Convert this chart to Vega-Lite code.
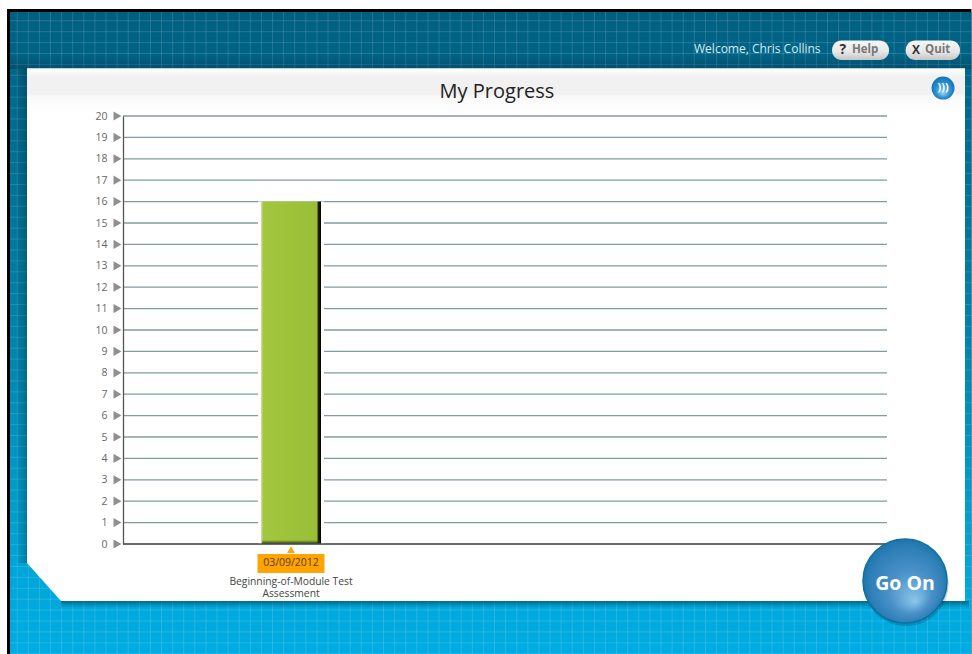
{
"$schema":"https://vega.github.io/schema/vega-lite/v6.json",
"width":764,"height":428,"padding":0,"background":"white",
"data":{"values":[{"decor":1}]},
"resolve":{"axis":{"x":"independent","y":"independent"}},
"config":{"view":{"stroke":null},"font":"Open Sans"},
"datasets":{
"progress":[{"slot":1,"score":16,"date":"03/09/2012","assessment":"Beginning-of-Module Test\nAssessment"}],
"ticks":[{"v":0},{"v":1},{"v":2},{"v":3},{"v":4},{"v":5},{"v":6},{"v":7},{"v":8},{"v":9},{"v":10},{"v":11},{"v":12},{"v":13},{"v":14},{"v":15},{"v":16},{"v":17},{"v":18},{"v":19},{"v":20}]
},
"layer":[
{"mark":{"type":"rect","fill":"white"},"encoding":{
"x":{"datum":-3.84,"type":"quantitative","axis":null,"scale":{"domain":[-1.8,10.933],"nice":false,"zero":false,"padding":0}},"x2":{"datum":12.34},
"y":{"datum":25.374,"type":"quantitative","axis":null,"scale":{"domain":[0,20],"nice":false,"zero":false,"padding":0}},"y2":{"datum":-5.187}}},
{"mark":{"type":"rect","fill":"#000000"},"encoding":{
"x":{"datum":-3.733,"type":"quantitative","axis":null},"x2":{"datum":12.34},
"y":{"datum":25.0,"type":"quantitative","axis":null},"y2":{"datum":-5.187}}},
{"mark":{"type":"rect","fill":{"gradient":"linear","x1":0,"y1":0,"x2":0,"y2":1,"stops":[{"offset":0,"color":"#005f80"},{"offset":0.12,"color":"#00688c"},{"offset":0.5,"color":"#0083aa"},{"offset":0.85,"color":"#00a5d8"},{"offset":1,"color":"#00ace2"}]}},"encoding":{
"x":{"datum":-3.683,"type":"quantitative","axis":null},"x2":{"datum":12.34},
"y":{"datum":24.86,"type":"quantitative","axis":null},"y2":{"datum":-5.187}}},
{"data":{"values":[{"gx":-3.563},{"gx":-3.378},{"gx":-3.193},{"gx":-3.008},{"gx":-2.823},{"gx":-2.638},{"gx":-2.453},{"gx":-2.268},{"gx":-2.083},{"gx":-1.898},{"gx":-1.713},{"gx":-1.528},{"gx":-1.343},{"gx":-1.158},{"gx":-0.973},{"gx":-0.788},{"gx":-0.603},{"gx":-0.418},{"gx":-0.233},{"gx":-0.048},{"gx":0.137},{"gx":0.322},{"gx":0.507},{"gx":0.692},{"gx":0.877},{"gx":1.062},{"gx":1.247},{"gx":1.432},{"gx":1.617},{"gx":1.802},{"gx":1.987},{"gx":2.172},{"gx":2.357},{"gx":2.542},{"gx":2.727},{"gx":2.912},{"gx":3.097},{"gx":3.282},{"gx":3.467},{"gx":3.652},{"gx":3.837},{"gx":4.022},{"gx":4.207},{"gx":4.392},{"gx":4.577},{"gx":4.762},{"gx":4.947},{"gx":5.132},{"gx":5.317},{"gx":5.502},{"gx":5.687},{"gx":5.872},{"gx":6.057},{"gx":6.242},{"gx":6.427},{"gx":6.612},{"gx":6.797},{"gx":6.982},{"gx":7.167},{"gx":7.352},{"gx":7.537},{"gx":7.722},{"gx":7.907},{"gx":8.092},{"gx":8.277},{"gx":8.462},{"gx":8.647},{"gx":8.832},{"gx":9.017},{"gx":9.202},{"gx":9.387},{"gx":9.572},{"gx":9.757},{"gx":9.942},{"gx":10.127},{"gx":10.312},{"gx":10.497},{"gx":10.682},{"gx":10.867},{"gx":11.052},{"gx":11.237},{"gx":11.422},{"gx":11.607},{"gx":11.792},{"gx":11.977},{"gx":12.162}]},
"mark":{"type":"rule","stroke":"#ffffff","strokeOpacity":0.14,"strokeWidth":1},"encoding":{
"x":{"field":"gx","type":"quantitative","axis":null},
"y":{"datum":24.86,"type":"quantitative","axis":null},"y2":{"datum":-5.187}}},
{"data":{"values":[{"gy":24.45},{"gy":23.94},{"gy":23.43},{"gy":22.92},{"gy":22.41},{"gy":21.9},{"gy":21.39},{"gy":20.88},{"gy":20.37},{"gy":19.86},{"gy":19.35},{"gy":18.84},{"gy":18.33},{"gy":17.82},{"gy":17.31},{"gy":16.8},{"gy":16.29},{"gy":15.78},{"gy":15.27},{"gy":14.76},{"gy":14.25},{"gy":13.74},{"gy":13.23},{"gy":12.72},{"gy":12.21},{"gy":11.7},{"gy":11.19},{"gy":10.68},{"gy":10.17},{"gy":9.66},{"gy":9.15},{"gy":8.64},{"gy":8.13},{"gy":7.62},{"gy":7.11},{"gy":6.6},{"gy":6.09},{"gy":5.58},{"gy":5.07},{"gy":4.56},{"gy":4.05},{"gy":3.54},{"gy":3.03},{"gy":2.52},{"gy":2.01},{"gy":1.5},{"gy":0.99},{"gy":0.48},{"gy":-0.03},{"gy":-0.54},{"gy":-1.05},{"gy":-1.56},{"gy":-2.07},{"gy":-2.58},{"gy":-3.09},{"gy":-3.6},{"gy":-4.11},{"gy":-4.62},{"gy":-5.13}]},
"mark":{"type":"rule","stroke":"#ffffff","strokeOpacity":0.14,"strokeWidth":1},"encoding":{
"y":{"field":"gy","type":"quantitative","axis":null},
"x":{"datum":-3.683,"type":"quantitative","axis":null},"x2":{"datum":12.34}}},
{"mark":{"type":"rect","fill":{"gradient":"linear","x1":0,"y1":0,"x2":0,"y2":1,"stops":[{"offset":0,"color":"rgba(0,30,45,0)"},{"offset":1,"color":"rgba(0,30,45,0.3)"}]}},"encoding":{
"x":{"datum":-3.683,"type":"quantitative","axis":null},"x2":{"datum":12.34},
"y":{"datum":22.9,"type":"quantitative","axis":null},"y2":{"datum":22.2}}},
{"mark":{"type":"rect","fill":{"gradient":"linear","x1":0,"y1":0,"x2":1,"y2":0,"stops":[{"offset":0,"color":"rgba(0,30,45,0)"},{"offset":1,"color":"rgba(0,30,45,0.3)"}]}},"encoding":{
"x":{"datum":-3.6,"type":"quantitative","axis":null},"x2":{"datum":-3.4},
"y":{"datum":22.22,"type":"quantitative","axis":null},"y2":{"datum":-0.888}}},
{"mark":{"type":"rect","fill":{"gradient":"linear","x1":0,"y1":0,"x2":0,"y2":1,"stops":[{"offset":0,"color":"rgba(0,30,45,0.45)"},{"offset":1,"color":"rgba(0,30,45,0)"}]}},"encoding":{
"x":{"datum":-2.833,"type":"quantitative","axis":null},"x2":{"datum":12.3},
"y":{"datum":-2.664,"type":"quantitative","axis":null},"y2":{"datum":-2.99}}},
{"data":{"values":[{"ax":-3.4,"low":-0.888,"high":22.22},{"ax":-2.833,"low":-2.664,"high":22.22},{"ax":12.233,"low":-2.664,"high":22.22}]},
"mark":{"type":"area","fill":"#ffffff","orient":"vertical"},"encoding":{
"x":{"field":"ax","type":"quantitative","axis":null},
"y":{"field":"low","type":"quantitative","axis":null},"y2":{"field":"high"}}},
{"mark":{"type":"rect","fill":{"gradient":"linear","x1":0,"y1":0,"x2":0,"y2":1,"stops":[{"offset":0,"color":"#ffffff"},{"offset":0.12,"color":"#f6f6f6"},{"offset":0.2,"color":"#f1f1f1"},{"offset":0.6,"color":"#f1f1f1"},{"offset":0.65,"color":"#f8f8f8"},{"offset":1,"color":"#ffffff"}]}},"encoding":{
"x":{"datum":-3.4,"type":"quantitative","axis":null},"x2":{"datum":12.233},
"y":{"datum":22.22,"type":"quantitative","axis":null},"y2":{"datum":20.234}}},
{"mark":{"type":"text","text":"My Progress","fontSize":20,"font":"Open Sans","color":"#222222","align":"center","baseline":"middle"},"encoding":{
"x":{"datum":4.433,"type":"quantitative","axis":null},
"y":{"datum":21.121,"type":"quantitative","axis":null}}},
{"data":{"name":"ticks"},"mark":{"type":"rule","stroke":"#7f9ca3","strokeWidth":1.3},"encoding":{
"y":{"field":"v","type":"quantitative","axis":{"title":null,"values":[0,1,2,3,4,5,6,7,8,9,10,11,12,13,14,15,16,17,18,19,20],"ticks":false,"grid":false,"domain":true,"domainColor":"#555555","domainWidth":1.3,"labelPadding":16,"labelFontSize":10.5,"labelFont":"Open Sans","labelColor":"#666666","labelOverlap":false,"zindex":1}},
"x":{"datum":-1.8,"type":"quantitative","axis":null},"x2":{"datum":10.933}}},
{"data":{"name":"ticks"},"mark":{"type":"point","shape":"triangle-right","filled":true,"fill":"#8f8f8f","opacity":1,"size":85},"encoding":{
"y":{"field":"v","type":"quantitative","axis":null},
"x":{"datum":-1.892,"type":"quantitative","axis":null}}},
{"data":{"name":"progress"},"mark":{"type":"bar","orient":"vertical","size":66,"fill":"#ffffff"},"encoding":{
"x":{"field":"slot","type":"quantitative","axis":null},
"y":{"field":"score","type":"quantitative","axis":null}}},
{"data":{"name":"progress"},"mark":{"type":"bar","orient":"vertical","size":60,"fill":{"gradient":"linear","x1":0,"y1":0,"x2":1,"y2":0,"stops":[{"offset":0,"color":"#d3e2a6"},{"offset":0.04,"color":"#a2c63d"},{"offset":0.5,"color":"#9ec23a"},{"offset":0.93,"color":"#9abe38"},{"offset":0.955,"color":"#1e2608"},{"offset":1,"color":"#000000"}]}},"encoding":{
"x":{"field":"slot","type":"quantitative","axis":null},
"y":{"field":"score","type":"quantitative","axis":null}}},
{"data":{"name":"progress"},"mark":{"type":"bar","orient":"vertical","size":58,"fill":{"gradient":"linear","x1":0,"y1":1,"x2":0,"y2":0,"stops":[{"offset":0,"color":"#111a05"},{"offset":1,"color":"rgba(90,120,30,0)"}]}},"encoding":{
"x":{"field":"slot","type":"quantitative","axis":null},
"y":{"datum":0,"type":"quantitative","axis":null},"y2":{"datum":0.2}}},
{"mark":{"type":"rule","stroke":"#555555","strokeWidth":1.4},"encoding":{
"x":{"datum":-1.8,"type":"quantitative","axis":null},"x2":{"datum":10.933},
"y":{"datum":0,"type":"quantitative","axis":null}}},
{"data":{"name":"progress"},"mark":{"type":"bar","orient":"vertical","size":67,"fill":"#ffa400"},"encoding":{
"x":{"field":"slot","type":"quantitative","axis":null},
"y":{"datum":-1.355,"type":"quantitative","axis":null},"y2":{"datum":-0.467}}},
{"data":{"name":"progress"},"mark":{"type":"point","shape":"triangle-up","filled":true,"fill":"#ffa400","opacity":1,"size":60},"encoding":{
"x":{"field":"slot","type":"quantitative","axis":null},
"y":{"datum":-0.26,"type":"quantitative","axis":null}}},
{"data":{"name":"progress"},"mark":{"type":"text","fontSize":10.5,"font":"Open Sans","color":"#5a3c08","align":"center","baseline":"middle"},"encoding":{
"x":{"field":"slot","type":"quantitative","axis":null},
"y":{"datum":-0.888,"type":"quantitative","axis":null},
"text":{"field":"date"}}},
{"data":{"name":"progress"},"mark":{"type":"text","fontSize":10.3,"font":"Open Sans","color":"#444444","align":"center","baseline":"top","lineBreak":"\n","lineHeight":12},"encoding":{
"x":{"field":"slot","type":"quantitative","axis":null},
"y":{"datum":-1.54,"type":"quantitative","axis":null},
"text":{"field":"assessment"}}},
{"mark":{"type":"text","text":"Welcome, Chris Collins","fontSize":12,"font":"Open Sans","color":"#d3eaf0","align":"left","baseline":"middle"},"encoding":{
"x":{"datum":7.717,"type":"quantitative","axis":null},
"y":{"datum":23.131,"type":"quantitative","axis":null}}},
{"mark":{"type":"rect","cornerRadius":9.5,"fill":{"gradient":"linear","x1":0,"y1":0,"x2":0,"y2":1,"stops":[{"offset":0,"color":"#f7f7f7"},{"offset":0.6,"color":"#e6e6e6"},{"offset":1,"color":"#c4c4c4"}]}},"encoding":{
"x":{"datum":10.017,"type":"quantitative","axis":null},"x2":{"datum":10.967},
"y":{"datum":22.617,"type":"quantitative","axis":null},"y2":{"datum":23.528}}},
{"mark":{"type":"rect","cornerRadius":9.5,"fill":{"gradient":"linear","x1":0,"y1":0,"x2":0,"y2":1,"stops":[{"offset":0,"color":"#f7f7f7"},{"offset":0.6,"color":"#e6e6e6"},{"offset":1,"color":"#c4c4c4"}]}},"encoding":{
"x":{"datum":11.245,"type":"quantitative","axis":null},"x2":{"datum":12.15},
"y":{"datum":22.617,"type":"quantitative","axis":null},"y2":{"datum":23.528}}},
{"mark":{"type":"text","text":"?","fontSize":14,"fontWeight":"bold","font":"Open Sans","color":"#333333","align":"center","baseline":"middle"},"encoding":{
"x":{"datum":10.195,"type":"quantitative","axis":null},
"y":{"datum":23.084,"type":"quantitative","axis":null}}},
{"mark":{"type":"text","text":"Help","fontSize":11.5,"fontWeight":"bold","font":"Open Sans","color":"#777777","align":"left","baseline":"middle"},"encoding":{
"x":{"datum":10.35,"type":"quantitative","axis":null},
"y":{"datum":23.084,"type":"quantitative","axis":null}}},
{"mark":{"type":"text","text":"X","fontSize":12,"fontWeight":"bold","font":"Open Sans","color":"#333333","align":"center","baseline":"middle"},"encoding":{
"x":{"datum":11.417,"type":"quantitative","axis":null},
"y":{"datum":23.084,"type":"quantitative","axis":null}}},
{"mark":{"type":"text","text":"Quit","fontSize":11.5,"fontWeight":"bold","font":"Open Sans","color":"#777777","align":"left","baseline":"middle"},"encoding":{
"x":{"datum":11.567,"type":"quantitative","axis":null},
"y":{"datum":23.084,"type":"quantitative","axis":null}}},
{"mark":{"type":"point","shape":"circle","filled":true,"opacity":1,"size":529,"fill":{"gradient":"radial","x1":0.5,"y1":0.75,"r1":0,"x2":0.5,"y2":0.5,"r2":0.55,"stops":[{"offset":0,"color":"#8fd0f2"},{"offset":0.6,"color":"#2a8fd0"},{"offset":1,"color":"#0f6eae"}]}},"encoding":{
"x":{"datum":11.867,"type":"quantitative","axis":null},
"y":{"datum":21.308,"type":"quantitative","axis":null}}},
{"mark":{"type":"text","text":")))","fontSize":11,"fontWeight":"bold","font":"Open Sans","color":"#ffffff","align":"center","baseline":"middle","letterSpacing":-1},"encoding":{
"x":{"datum":11.867,"type":"quantitative","axis":null},
"y":{"datum":21.308,"type":"quantitative","axis":null}}},
{"mark":{"type":"point","shape":"circle","filled":true,"fill":"#00202e","opacity":0.2,"size":7300},"encoding":{
"x":{"datum":11.25,"type":"quantitative","axis":null},
"y":{"datum":-1.85,"type":"quantitative","axis":null}}},
{"mark":{"type":"point","shape":"circle","filled":true,"opacity":1,"size":7056,"stroke":"#0d6f9e","strokeWidth":1.5,"fill":{"gradient":"radial","x1":0.62,"y1":0.75,"r1":0,"x2":0.5,"y2":0.5,"r2":0.55,"stops":[{"offset":0,"color":"#8cc6ea"},{"offset":0.45,"color":"#4a92c8"},{"offset":0.8,"color":"#2f7fb8"},{"offset":1,"color":"#1272a6"}]}},"encoding":{
"x":{"datum":11.233,"type":"quantitative","axis":null},
"y":{"datum":-1.729,"type":"quantitative","axis":null}}},
{"mark":{"type":"text","text":"Go On","fontSize":19.5,"fontWeight":"bold","font":"Open Sans","color":"#ffffff","align":"center","baseline":"middle"},"encoding":{
"x":{"datum":11.233,"type":"quantitative","axis":null},
"y":{"datum":-1.869,"type":"quantitative","axis":null}}}
]
}
